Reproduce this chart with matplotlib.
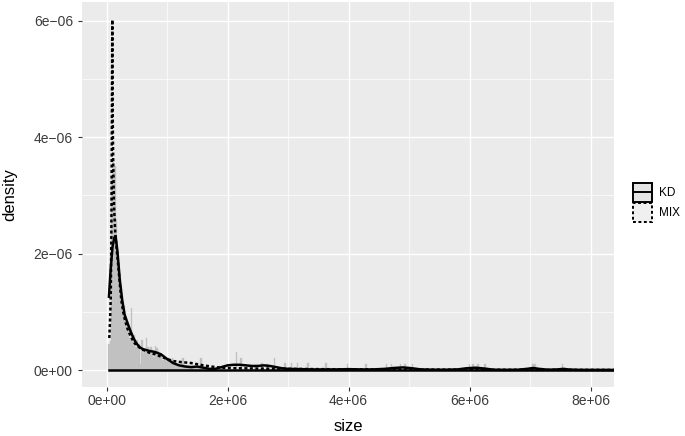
import numpy as np
import matplotlib
matplotlib.use('Agg')
import matplotlib.pyplot as plt
from matplotlib.patches import Rectangle
from matplotlib.lines import Line2D

plt.rcParams['font.family'] = ['Liberation Sans', 'DejaVu Sans']

# histogram, dense part (x in 1e6, density in 1e-6), bins of 0.025e6 from 0.025e6
dense_start = 0.025
bin_w = 0.025
dense_h = [0.45, 0.5, 3.3, 3.6, 3.5, 2.6, 1.8, 1.4, 1.3, 1.0,
           1.1, 0.8, 0.85, 0.7, 0.55, 1.06, 0.5, 0.6, 0.4, 0.52,
           0.45, 0.1, 0.52, 0.3, 0.35, 0.55, 0.4, 0.28, 0.4, 0.35,
           0.23, 0.42, 0.38, 0.32, 0.3, 0.25, 0.17, 0.2, 0.18, 0.2,
           0.12, 0.15, 0.2, 0.1, 0.12, 0.08, 0.1, 0.07, 0.12, 0.2,
           0.06, 0.08, 0.05, 0.07, 0.04, 0.06, 0.03, 0.05, 0.04, 0.06,
           0.03, 0.2, 0.05]

# sparse bars further right
sparse_x = [1.66, 1.78, 1.91, 2.02, 2.15, 2.22, 2.32, 2.45, 2.57, 2.65,
            2.78, 2.95, 3.06, 3.16, 3.33, 3.63, 3.98, 4.29, 4.63, 4.71,
            4.86, 4.93, 5.06, 6.00, 6.06, 6.14, 6.26, 7.05, 7.08, 7.54]
sparse_h = [0.06, 0.04, 0.06, 0.05, 0.31, 0.2, 0.06, 0.05, 0.12, 0.1,
            0.21, 0.12, 0.12, 0.12, 0.12, 0.12, 0.1, 0.1, 0.11, 0.11,
            0.11, 0.11, 0.11, 0.11, 0.11, 0.11, 0.11, 0.11, 0.11, 0.11]

# kernel density (KD)
kd_x = [0.04, 0.07, 0.10, 0.13, 0.15, 0.18, 0.22, 0.26, 0.30, 0.35,
        0.40, 0.45, 0.50, 0.55, 0.60, 0.70, 0.80, 0.90, 1.00, 1.10,
        1.20, 1.30, 1.40, 1.50, 1.60, 1.70, 1.80, 1.90, 2.00, 2.10,
        2.20, 2.30, 2.40, 2.50, 2.60, 2.70, 2.80, 2.90, 3.00, 3.20,
        3.40, 3.60, 3.80, 4.00, 4.20, 4.40, 4.60, 4.75, 4.90, 5.05,
        5.20, 5.40, 5.60, 5.80, 5.95, 6.10, 6.25, 6.40, 6.60, 6.80,
        6.95, 7.05, 7.15, 7.30, 7.45, 7.55, 7.65, 7.80, 8.00, 8.20, 8.50]
kd_y = [1.26, 1.75, 2.12, 2.28, 2.30, 2.05, 1.55, 1.2, 0.95, 0.8,
        0.66, 0.54, 0.45, 0.39, 0.36, 0.33, 0.31, 0.27, 0.19, 0.12,
        0.08, 0.06, 0.05, 0.06, 0.04, 0.02, 0.02, 0.05, 0.08, 0.09,
        0.09, 0.08, 0.07, 0.07, 0.08, 0.07, 0.05, 0.03, 0.02, 0.015,
        0.01, 0.01, 0.01, 0.015, 0.01, 0.01, 0.02, 0.035, 0.045, 0.03,
        0.01, 0.005, 0.005, 0.01, 0.03, 0.04, 0.025, 0.005, 0.003, 0.005,
        0.02, 0.035, 0.02, 0.005, 0.01, 0.02, 0.008, 0.003, 0.002, 0.002, 0.001]

# mixture density (MIX)
mix_x = [0.046, 0.06, 0.07, 0.08, 0.086, 0.091, 0.096, 0.100, 0.106, 0.112,
         0.125, 0.145, 0.17, 0.195, 0.22, 0.245, 0.275, 0.305, 0.35, 0.40,
         0.45, 0.50, 0.60, 0.70, 0.80, 0.90, 1.00, 1.10, 1.20, 1.30,
         1.40, 1.50, 1.60, 1.70, 1.80, 1.90, 2.00, 2.20, 2.50, 3.00,
         3.50, 4.00, 5.00, 6.00, 7.00, 8.50]
mix_y = [0.55, 0.9, 1.25, 2.3, 3.5, 4.8, 6.02, 4.8, 4.0, 3.5,
         2.8, 2.35, 2.05, 1.78, 1.48, 1.2, 1.0, 0.86, 0.7, 0.58,
         0.48, 0.42, 0.35, 0.3, 0.27, 0.23, 0.19, 0.155, 0.14, 0.13,
         0.12, 0.10, 0.08, 0.065, 0.05, 0.04, 0.035, 0.03, 0.025, 0.02,
         0.015, 0.012, 0.008, 0.005, 0.003, 0.001]

xticks = [0, 2e6, 4e6, 6e6, 8e6]
xticklabels = ['0e+00', '2e+06', '4e+06', '6e+06', '8e+06']
yticks = [0, 2e-6, 4e-6, 6e-6]
yticklabels = ['0e+00', '2e\u221206', '4e\u221206', '6e\u221206']

W, H = 685, 436
fig = plt.figure(figsize=(W / 100, H / 100), dpi=100)
ax = fig.add_axes([82 / W, 49 / H, 532 / W, 385 / H])
ax.set_facecolor('#ebebeb')
for s in ax.spines.values():
    s.set_visible(False)

# histogram bars
dense_x = dense_start + bin_w * np.arange(len(dense_h)) + bin_w / 2
bx = np.concatenate([dense_x, sparse_x]) * 1e6
bh = np.concatenate([dense_h, sparse_h]) * 1e-6
ax.bar(bx, bh, width=bin_w * 1e6, color='#bfbfbf', edgecolor='#c6c6c6',
       linewidth=0.3, zorder=2)

# density lines
ax.plot(np.array(kd_x) * 1e6, np.array(kd_y) * 1e-6, color='black', lw=1.8,
        solid_joinstyle='round', zorder=4)
ax.plot(np.array(mix_x) * 1e6, np.array(mix_y) * 1e-6, color='black', lw=1.8,
        linestyle=(0, (1.2, 1.0)), zorder=4)
ax.plot([kd_x[0] * 1e6, 8.5e6], [0, 0], color='black', lw=1.8, zorder=4)

ax.set_xlim(-0.405e6, 8.388e6)
ax.set_ylim(-0.292e-6, 6.326e-6)

ax.set_xticks(xticks)
ax.set_xticklabels(xticklabels)
ax.set_yticks(yticks)
ax.set_yticklabels(yticklabels)
ax.set_xticks([1e6, 3e6, 5e6, 7e6], minor=True)
ax.set_yticks([1e-6, 3e-6, 5e-6], minor=True)
ax.grid(which='major', color='white', lw=1.0, zorder=0)
ax.grid(which='minor', color='white', lw=0.5, zorder=0)
ax.set_axisbelow(True)
ax.tick_params(which='major', length=3, width=0.8, color='#333333',
               labelcolor='#3c3c3c', labelsize=10)
ax.tick_params(axis='x', pad=2)
ax.tick_params(axis='y', pad=3.5)
ax.tick_params(which='minor', length=0)

fig.text(348 / W, 1 - 426 / H, 'size', ha='center', va='center', fontsize=12)
fig.text(10 / W, 1 - 195 / H, 'density', ha='center', va='center',
         rotation=90, fontsize=12)

# legend keys
def fx(px):
    return px / W

def fy(py):
    return 1 - py / H

kw = 19 / W
kh = 19 / H
fig.patches.append(Rectangle((fx(633), fy(202)), kw, kh, transform=fig.transFigure,
                             facecolor='#e4e4e4', edgecolor='black', lw=1.4))
fig.lines.append(Line2D([fx(633), fx(652)], [fy(192.5), fy(192.5)],
                        transform=fig.transFigure, color='black', lw=1.4))
fig.patches.append(Rectangle((fx(633), fy(222)), kw, kh, transform=fig.transFigure,
                             facecolor='#f0f0f0', edgecolor='black', lw=1.4,
                             linestyle=(0, (1.5, 1.3))))
fig.text(fx(659), fy(193), 'KD', ha='left', va='center', fontsize=8.5)
fig.text(fx(659), fy(213), 'MIX', ha='left', va='center', fontsize=8.5)

fig.savefig('out.png', dpi=100)
